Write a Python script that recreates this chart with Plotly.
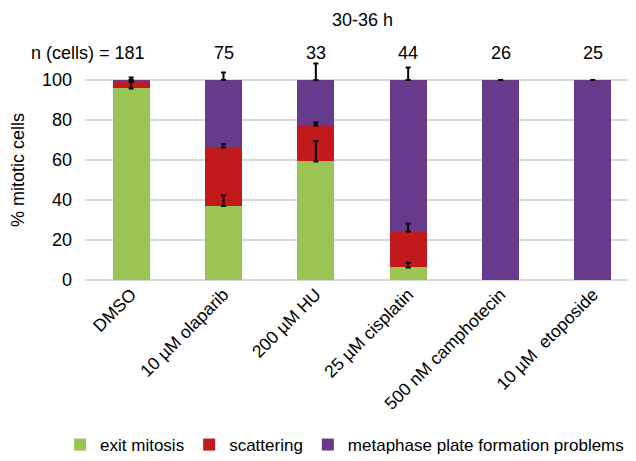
import plotly.graph_objects as go
import numpy as np

categories = ["DMSO", "10 µM olaparib", "200 µM HU", "25 µM cisplatin",
              "500 nM camphotecin", "10 µM  etoposide"]
n_cells = [181, 75, 33, 44, 26, 25]

exit_mitosis = [95.8, 37.0, 59.3, 6.3, 0, 0]
scattering = [3.5, 29.3, 18.0, 17.9, 0, 0]
metaphase = [0.7, 33.7, 22.7, 75.8, 100, 100]

exit_err = [3.2, 5.3, 10.2, 2.3, None, None]
scatter_err = [0.5, 1.7, 1.5, 4.1, None, None]
metaphase_err = [1.3, 3.7, 8.3, 6.3, 0, 0]

colors = {"exit": "#9BC455", "scatter": "#C1191C", "meta": "#673A8C"}
FONT = "Liberation Sans, Arial, sans-serif"

series = [
    ("exit mitosis", exit_mitosis, exit_err, colors["exit"]),
    ("scattering", scattering, scatter_err, colors["scatter"]),
    ("metaphase plate formation problems", metaphase, metaphase_err, colors["meta"]),
]

fig = go.Figure()
for name, vals, errs, col in series:
    fig.add_trace(go.Bar(
        x=categories, y=vals, name=name,
        marker=dict(color=col, line=dict(width=0)),
        width=0.4,
    ))

# error bars drawn on top of all stacked bars (plus direction only)
cum = np.zeros(len(categories))
for name, vals, errs, col in series:
    cum = cum + np.array(vals, dtype=float)
    ys = [float(cum[i]) if errs[i] is not None else None for i in range(len(categories))]
    es = [e if e is not None else 0 for e in errs]
    fig.add_trace(go.Scatter(
        x=categories, y=ys, mode="markers", showlegend=False, hoverinfo="skip",
        marker=dict(size=1, color="rgba(0,0,0,0)"),
        cliponaxis=False,
        error_y=dict(type="data", symmetric=False, array=es,
                     arrayminus=[0] * len(es),
                     color="black", thickness=2, width=2.5),
    ))

annotations = [
    dict(text="30-36 h", xref="paper", yref="paper", x=0.5, y=1.182,
         xanchor="center", yanchor="middle", showarrow=False,
         font=dict(size=18, color="#000000", family=FONT)),
    dict(text="B", xref="paper", yref="paper", x=-0.139, y=1.215,
         xanchor="left", yanchor="bottom", showarrow=False,
         font=dict(size=24, color="#000000", family=FONT)),
]
for i, (c, n) in enumerate(zip(categories, n_cells)):
    if i == 0:
        annotations.append(dict(text="n (cells) = " + str(n), xref="x", yref="paper",
                                x=c, y=1.032, xanchor="right", yanchor="middle",
                                xshift=16, showarrow=False,
                                font=dict(size=18, color="#000000", family=FONT)))
    else:
        annotations.append(dict(text=str(n), xref="x", yref="paper",
                                x=c, y=1.032, xanchor="center", yanchor="middle",
                                showarrow=False,
                                font=dict(size=18, color="#000000", family=FONT)))

fig.update_layout(
    width=636, height=461,
    barmode="stack",
    plot_bgcolor="white", paper_bgcolor="white",
    margin=dict(l=77, r=5, t=52, b=189, autoexpand=False),
    font=dict(family=FONT, size=18, color="#000000"),
    showlegend=True,
    legend=dict(orientation="h", x=-0.045, y=-0.75,
                xanchor="left", yanchor="middle",
                font=dict(size=17, family=FONT), itemwidth=30,
                traceorder="normal"),
    annotations=annotations,
)
fig.update_yaxes(range=[0, 110], tickvals=[0, 20, 40, 60, 80, 100],
                 automargin=False,
                 showgrid=True, gridcolor="#D9D9D9", gridwidth=2,
                 zeroline=True, zerolinecolor="#D9D9D9", zerolinewidth=2,
                 showline=False, ticks="", ticklen=0, ticklabelstandoff=12,
                 title=dict(text="% mitotic cells", font=dict(size=18), standoff=12),
                 tickfont=dict(size=18))
fig.update_xaxes(range=[-0.5, 5.5], tickangle=-45, showline=False, ticks="",
                 tickfont=dict(size=17.5), automargin=False)

fig.write_html("out.html")
